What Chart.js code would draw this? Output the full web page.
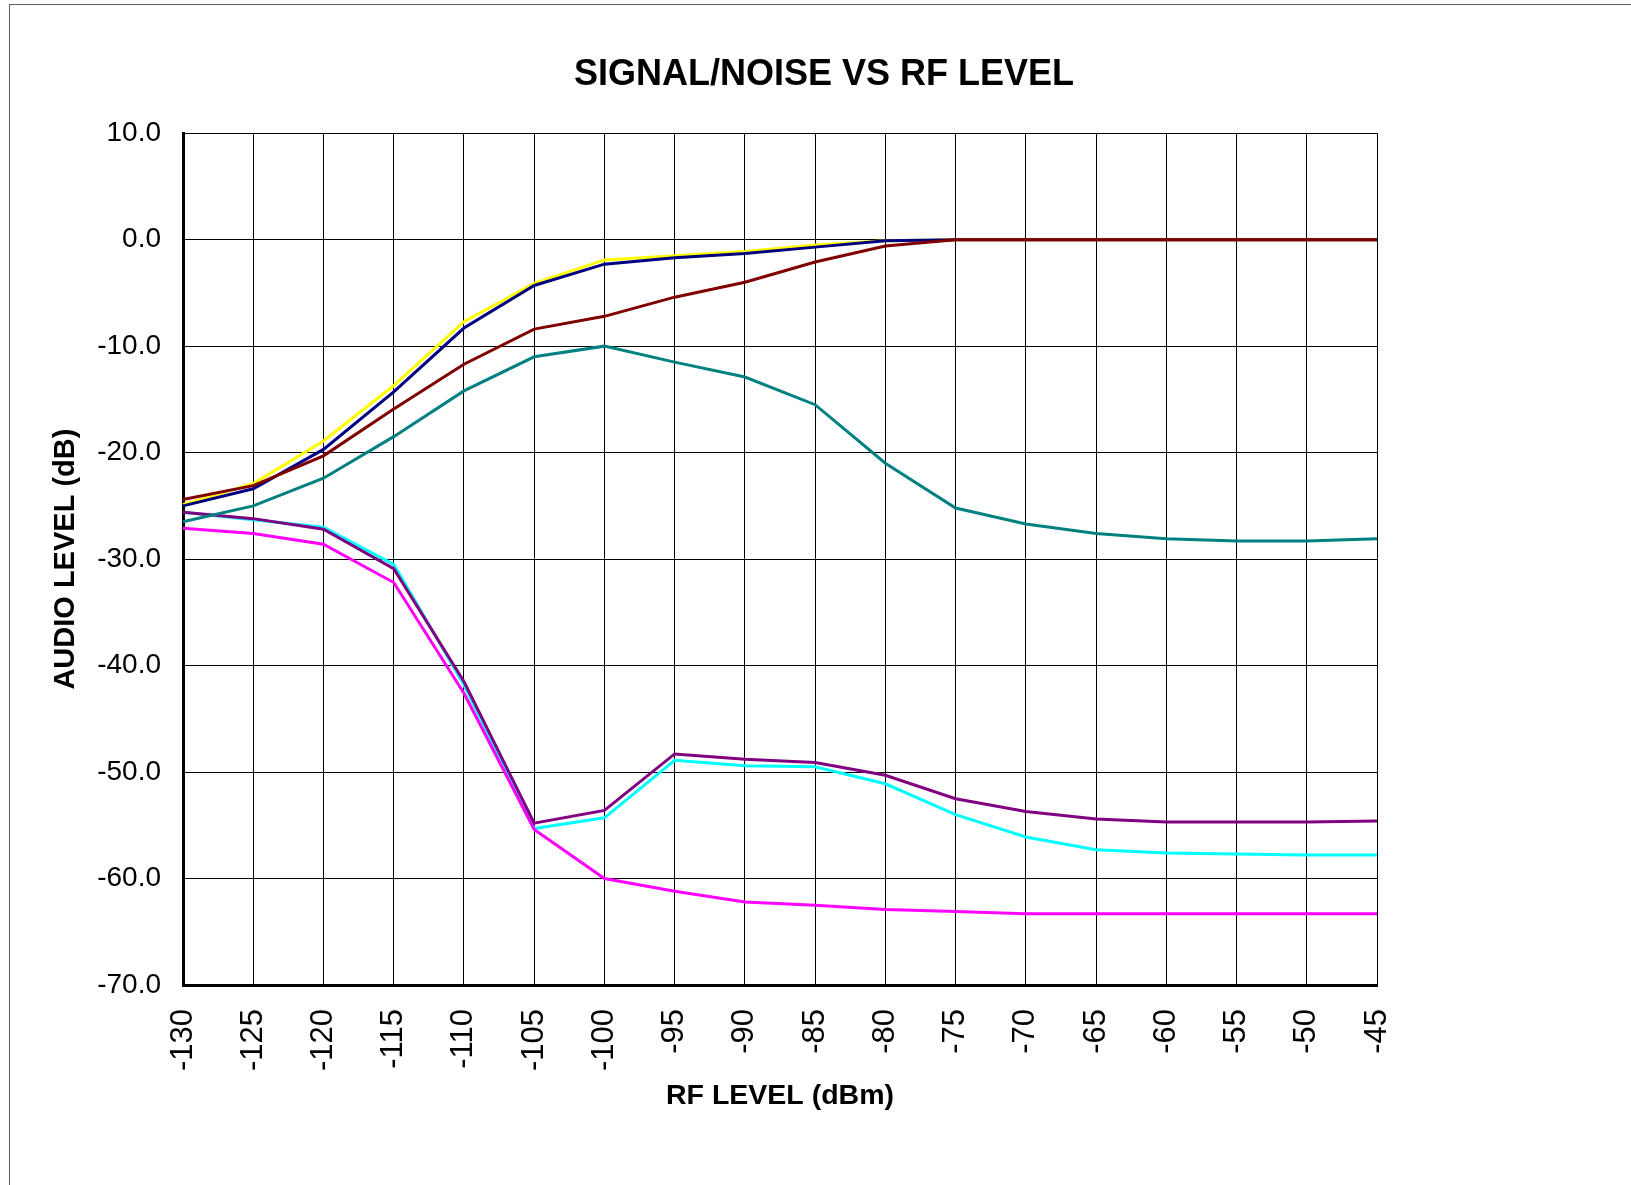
<!DOCTYPE html>
<html>
<head>
<meta charset="utf-8">
<title>Signal/Noise vs RF Level</title>
<script src="https://cdn.jsdelivr.net/npm/chart.js@4.4.0/dist/chart.umd.min.js"></script>
<style>
    body { margin: 0; background: #ffffff; }
    canvas { display: block; }
</style>
</head>
<body>
<canvas id="snChart" width="1631" height="1185"></canvas>
<script>
// RF level steps (dBm) on the x axis
const rfLevels = ['-130', '-125', '-120', '-115', '-110', '-105', '-100', '-95', '-90',
                  '-85', '-80', '-75', '-70', '-65', '-60', '-55', '-50', '-45'];

// audio level (dB), one array per curve
const yellowCurve  = [-24.9, -22.9, -18.9, -13.7, -7.7, -4.1, -1.9, -1.5, -1.1, -0.5, -0.1, 0, 0, 0, 0, 0, 0, 0];
const navyCurve    = [-25.0, -23.4, -19.7, -14.3, -8.3, -4.3, -2.3, -1.7, -1.3, -0.7, -0.1, 0, 0, 0, 0, 0, 0, 0];
const maroonCurve  = [-24.4, -23.1, -20.3, -15.9, -11.7, -8.4, -7.2, -5.4, -4.0, -2.1, -0.6, 0, 0, 0, 0, 0, 0, 0];
const tealCurve    = [-26.5, -25.0, -22.4, -18.5, -14.2, -11.0, -10.0, -11.5, -12.9, -15.5, -21.0, -25.2, -26.7, -27.6, -28.1, -28.3, -28.3, -28.1];
const purpleCurve  = [-25.6, -26.2, -27.2, -30.9, -41.5, -54.8, -53.6, -48.3, -48.8, -49.1, -50.3, -52.5, -53.7, -54.4, -54.7, -54.7, -54.7, -54.6];
const cyanCurve    = [-25.6, -26.3, -27.0, -30.5, -41.8, -55.3, -54.3, -48.9, -49.4, -49.5, -51.1, -54.0, -56.1, -57.3, -57.6, -57.7, -57.8, -57.8];
const magentaCurve = [-27.1, -27.6, -28.6, -32.2, -42.6, -55.4, -60.0, -61.2, -62.2, -62.5, -62.9, -63.1, -63.3, -63.3, -63.3, -63.3, -63.3, -63.3];

// y axis range / tick step
const yMin = -70;
const yMax = 10;
const yStep = 10;

const FONT = "'Liberation Sans', Arial, sans-serif";

function line(data, color, order) {
    return {
        data: data,
        borderColor: color,
        backgroundColor: color,
        borderWidth: 3,
        pointRadius: 0,
        tension: 0,
        fill: false,
        order: order
    };
}

// grey frame of the chart object (right and bottom edges fall outside the picture)
const framePlugin = {
    id: 'frame',
    beforeDraw(chart) {
        const { ctx } = chart;
        ctx.save();
        ctx.strokeStyle = '#606060';
        ctx.lineWidth = 1;
        ctx.strokeRect(9.5, 4.5, 1800, 1400);
        ctx.restore();
    }
};

const ctx = document.getElementById('snChart');

new Chart(ctx, {
    type: 'line',
    data: {
        labels: rfLevels,
        datasets: [
            line(maroonCurve, '#800000', 1),
            line(navyCurve, '#000080', 2),
            line(yellowCurve, '#FFFF00', 3),
            line(tealCurve, '#008080', 1),
            line(purpleCurve, '#800080', 1),
            line(cyanCurve, '#00FFFF', 2),
            line(magentaCurve, '#FF00FF', 1)
        ]
    },
    options: {
        responsive: false,
        animation: false,
        events: [],
        layout: { padding: { left: 17, right: 0, top: 0, bottom: 0 } },
        plugins: {
            legend: { display: false },
            tooltip: { enabled: false },
            title: {
                display: true,
                text: 'SIGNAL/NOISE VS RF LEVEL',
                color: '#000',
                font: { family: FONT, size: 36, weight: 'bold' },
                padding: { top: 53, bottom: 37 }
            }
        },
        scales: {
            x: {
                type: 'category',
                offset: false,
                grid: { color: '#000', lineWidth: 1, drawTicks: false },
                border: { display: true, color: '#000', width: 3 },
                ticks: {
                    color: '#000',
                    font: { family: FONT, size: 31 },
                    minRotation: 90,
                    maxRotation: 90,
                    padding: 24,
                    autoSkip: false
                },
                title: {
                    display: true,
                    text: 'RF LEVEL (dBm)',
                    color: '#000',
                    font: { family: FONT, size: 28.5, weight: 'bold' },
                    padding: { top: 0, bottom: 72 }
                },
                afterFit(scale) { scale.height = 200; }
            },
            y: {
                min: yMin,
                max: yMax,
                grid: { color: '#000', lineWidth: 1, drawTicks: false },
                border: { display: true, color: '#000', width: 3 },
                ticks: {
                    stepSize: yStep,
                    color: '#000',
                    font: { family: FONT, size: 28 },
                    padding: 22,
                    callback: v => v.toFixed(1)
                },
                title: {
                    display: true,
                    text: 'AUDIO LEVEL (dB)',
                    color: '#000',
                    font: { family: FONT, size: 29, weight: 'bold' },
                    padding: { top: 32, bottom: 0 }
                },
                afterFit(scale) { scale.width = 166; }
            },
            // empty right-hand space so the plot ends where the original does
            yRight: {
                position: 'right',
                display: true,
                grid: { display: false },
                border: { display: false },
                ticks: { display: false },
                afterFit(scale) { scale.width = 254; }
            }
        }
    },
    plugins: [framePlugin]
});
</script>
</body>
</html>
